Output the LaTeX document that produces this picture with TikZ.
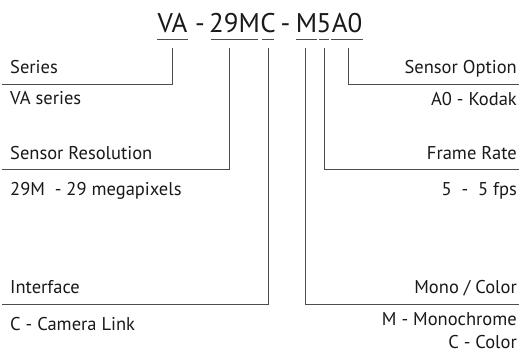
\documentclass[tikz,border=0pt]{standalone}
\usepackage{fontspec}
\setmainfont{PT Sans}
\begin{document}
\begin{tikzpicture}[x=1pt,y=-1pt,
  lbl/.style={inner sep=0pt,font=\fontsize{18.5}{22}\selectfont,text=black!90},
  lleft/.style={lbl,anchor=base west},
  lright/.style={lbl,anchor=base east},
  code/.style={inner sep=0pt,anchor=base,font=\fontsize{27}{32}\selectfont,text=black!90},
  ln/.style={draw=black!70,line width=0.9pt},
  ul/.style={draw=black!70,line width=0.9pt}]
\useasboundingbox (0,0) rectangle (519,356);
% title pieces
\node[code] (va) at (172.5,32) {VA};
\node[code] (d1) at (200,32) {-};
\node[code] (res) at (234.5,32) {29M};
\node[code] (ifc) at (268,32) {C};
\node[code] (d2) at (285.5,32) {-};
\node[code] (mc) at (306.5,32) {M};
\node[code] (fr) at (324,32) {5};
\node[code] (so) at (347,32) {A0};
% underlines
\draw[ul] (157,39.5) -- (188,39.5);
\draw[ul] (211,39.5) -- (258,39.5);
\draw[ul] (262,39.5) -- (274,39.5);
\draw[ul] (296,39.5) -- (317,39.5);
\draw[ul] (319,39.5) -- (329,39.5);
\draw[ul] (331,39.5) -- (363,39.5);
% left labels
\node[lleft] (series) at (10,73) {Series};
\node[lleft] (seriesv) at (10,104) {VA series};
\node[lleft] (sres) at (10,159.5) {Sensor Resolution};
\node[lleft] (sresv) at (10,195) {29M\ \ - 29 megapixels};
\node[lleft] (iface) at (10,293) {Interface};
\node[lleft] (ifacev) at (10,330) {C - Camera Link};
% right labels
\node[lright] (sopt) at (517,73) {Sensor Option};
\node[lright] (soptv) at (517,105) {A0 - Kodak};
\node[lright] (frate) at (517,159.5) {Frame Rate};
\node[lright] (fratev) at (517,195) {5\ \ -\ \ 5 fps};
\node[lright] (mono) at (517,293) {Mono / Color};
\node[lright] (monov1) at (517,325) {M - Monochrome};
\node[lright] (monov2) at (517,348) {C - Color};
% connectors
\coordinate (a1) at (172,48); \coordinate (a2) at (172,84); \coordinate (a3) at (2,84);
\coordinate (b1) at (229,48); \coordinate (b2) at (229,169); \coordinate (b3) at (2,169);
\coordinate (c1) at (268,48); \coordinate (c2) at (268,304); \coordinate (c3) at (2,304);
\coordinate (e1) at (305,48); \coordinate (e2) at (305,304); \coordinate (e3) at (519,304);
\coordinate (f1) at (324,48); \coordinate (f2) at (324,169); \coordinate (f3) at (519,169);
\coordinate (g1) at (348,48); \coordinate (g2) at (348,84); \coordinate (g3) at (519,84);
\draw[ln] (a1) -- (a2) -- (a3);
\draw[ln] (b1) -- (b2) -- (b3);
\draw[ln] (c1) -- (c2) -- (c3);
\draw[ln] (e1) -- (e2) -- (e3);
\draw[ln] (f1) -- (f2) -- (f3);
\draw[ln] (g1) -- (g2) -- (g3);
\end{tikzpicture}
\end{document}
